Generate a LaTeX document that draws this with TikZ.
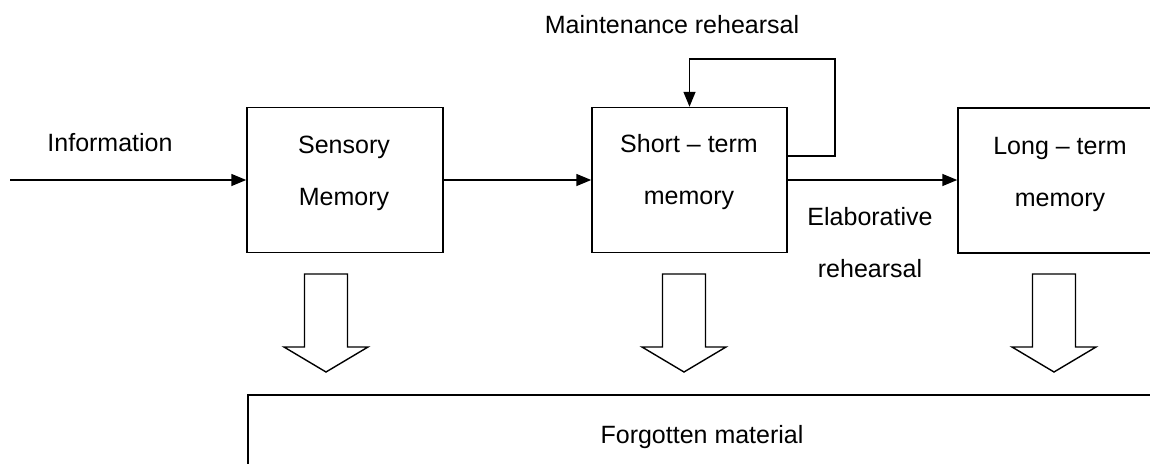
\documentclass[tikz,border=0pt]{standalone}
\usepackage{fontspec}
\setmainfont{Liberation Sans}
\usetikzlibrary{arrows.meta, positioning}

\tikzset{
  box/.style={draw, line width=1.5pt, minimum height=145pt, inner sep=0pt},
  txt/.style={align=center, font=\fontsize{25}{52}\selectfont, inner sep=0pt},
  flow/.style={line width=1.5pt, -{Triangle[length=15pt, width=12pt]}},
}

\begin{document}
\begin{tikzpicture}[x=1pt, y=-1pt]
  \clip (0,0) rectangle (1150,463);

  % boxes
  \node[box, minimum width=196pt] (sens) at (345,180) {};
  \node[box, minimum width=195pt] (stm) at (689.5,180) {};
  \node[box, minimum width=204pt] (ltm) at (1060,180.5) {};
  \node[box, minimum width=922pt, minimum height=100pt] (forgot) at (709,445) {};

  % texts
  \node[txt] (senstxt) at (344,173.5) {Sensory\\Memory};
  \node[txt] (stmtxt) at (689,172.5) {Short – term\\memory};
  \node[txt] (ltmtxt) at (1060,174) {Long – term\\memory};
  \node[txt] (info) at (110,143) {Information};
  \node[txt] (maint) at (672,25) {Maintenance rehearsal};
  \node[txt] (elab) at (870,242.5) {Elaborative\\rehearsal};
  \node[txt] (forgottxt) at (702,437.5) {Forgotten material};

  \coordinate (start) at (10,180);
  \coordinate (looptop) at (835,59);

  \draw[flow] (start) -- (sens.west);
  \draw[flow] (sens.east) -- (stm.west);
  \draw[flow] (stm.east) -- (ltm.west |- stm.east);
  \draw[flow] ([yshift=24pt]stm.east) -| (looptop) -| (stm.north);

  % forgetting
  \foreach \x in {326,684,1054}
    \draw[line width=1.4pt, line join=miter]
      (\x-21.5,274) -- ++(0,73) -- ++(-20.5,0) -- (\x,372)
      -- (\x+42,347) -- ++(-20.5,0) -- (\x+21.5,274) -- cycle;
\end{tikzpicture}
\end{document}
